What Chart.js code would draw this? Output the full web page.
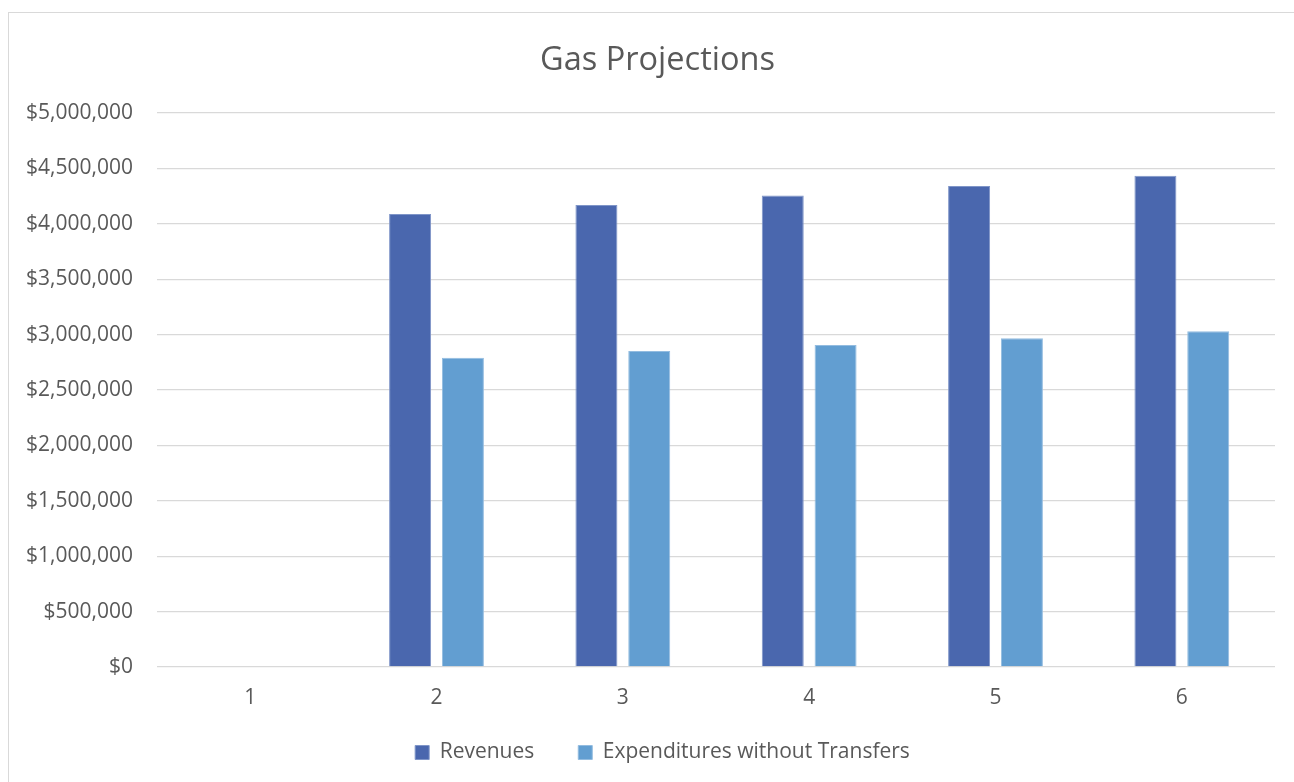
<!DOCTYPE html>
<html>
<head>
<meta charset="utf-8">
<script src="https://cdn.jsdelivr.net/npm/chart.js@4"></script>
<style>
  html, body { margin: 0; padding: 0; background: #fff; }
  #frame { position: absolute; left: 8px; top: 12px; width: 1300px; height: 800px; border: 1px solid #d9d9d9; box-sizing: border-box; }
  #wrap { position: absolute; left: 0; top: 0; width: 1294px; height: 782px; }
</style>
</head>
<body>
<div id="frame"></div>
<div id="wrap"><canvas id="c" width="1294" height="782"></canvas></div>
<script>
const categories = ['1', '2', '3', '4', '5', '6'];
const revenues = [null, 4088000, 4170000, 4256000, 4342000, 4433000];
const expenditures = [null, 2792000, 2852000, 2907000, 2968000, 3031000];
const seriesNames = ['Revenues', 'Expenditures without Transfers'];
const chartTitle = 'Gas Projections';

const FONT = "'Open Sans', Lato, sans-serif";
const GREY = '#595959';

// Nudges the title and legend boxes after layout: both are centred a little
// right of the plot, and the legend sits closer to the category labels.
const boxNudge = {
  id: 'boxNudge',
  afterLayout(chart) {
    const t = chart.titleBlock;
    if (t) { t.left += 8; t.right += 8; }
    const l = chart.legend;
    if (l) {
      l.left += 13; l.right += 13;
      l.top -= 9; l.bottom -= 9;
    }
  }
};

new Chart(document.getElementById('c'), {
  type: 'bar',
  data: {
    labels: categories,
    datasets: [
      { label: seriesNames[0], data: revenues, backgroundColor: '#4A67AE', borderColor: '#7F95C8', borderWidth: 1 },
      { label: seriesNames[1], data: expenditures, backgroundColor: '#629ED1', borderColor: '#93BCE0', borderWidth: 1 }
    ]
  },
  plugins: [boxNudge],
  options: {
    responsive: false,
    animation: false,
    categoryPercentage: 0.567,
    barPercentage: 0.795,
    layout: { padding: { left: 24, right: 19, top: 41, bottom: 0 } },
    plugins: {
      title: {
        display: true,
        text: chartTitle,
        color: GREY,
        font: { family: FONT, size: 32.5, weight: 'normal' },
        padding: { top: 0, bottom: 33 }
      },
      legend: {
        position: 'bottom',
        labels: {
          color: GREY,
          font: { family: FONT, size: 21 },
          boxWidth: 14,
          boxHeight: 14,
          padding: 44
        }
      },
      tooltip: { enabled: false }
    },
    scales: {
      x: {
        afterFit(scale) { scale.height = 40; },
        grid: { display: false },
        border: { display: false },
        ticks: { color: GREY, font: { family: FONT, size: 21 }, padding: 10 }
      },
      y: {
        min: 0,
        max: 5000000,
        afterFit(scale) { scale.width = 133; },
        grid: { color: '#d9d9d9', lineWidth: 1.3, drawTicks: false },
        border: { display: false },
        ticks: {
          stepSize: 500000,
          color: GREY,
          padding: 24,
          font: { family: FONT, size: 21 },
          callback: v => '$' + v.toLocaleString('en-US')
        }
      }
    }
  }
});
</script>
</body>
</html>
